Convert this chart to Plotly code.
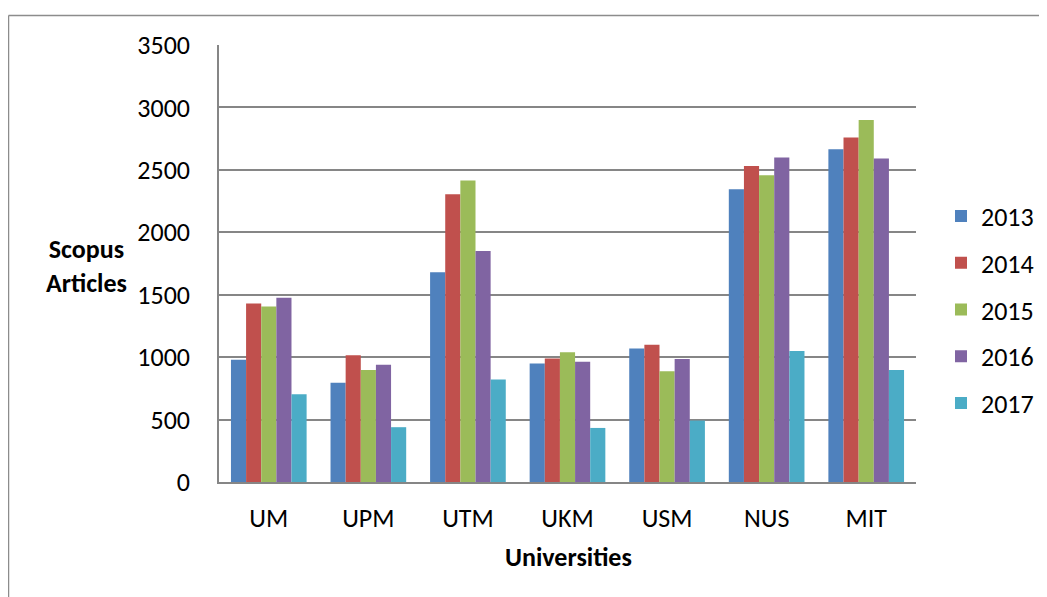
import plotly.graph_objects as go

universities = ["UM", "UPM", "UTM", "UKM", "USM", "NUS", "MIT"]
years = ["2013", "2014", "2015", "2016", "2017"]
v2013 = [980, 795, 1680, 950, 1070, 2345, 2665]
v2014 = [1430, 1015, 2305, 990, 1100, 2530, 2760]
v2015 = [1405, 898, 2415, 1040, 888, 2457, 2900]
v2016 = [1475, 940, 1850, 963, 985, 2598, 2590]
v2017 = [703, 439, 821, 433, 492, 1050, 898]
series = [v2013, v2014, v2015, v2016, v2017]
colors = ["#4F81BD", "#C0504D", "#9BBB59", "#8064A2", "#4BACC6"]

FONT = "Carlito, Lato, sans-serif"
FS = 26

fig = go.Figure()
for yr, vals, col in zip(years, series, colors):
    fig.add_trace(go.Bar(x=universities, y=vals, name=yr, marker_color=col,
                         marker_line_width=0, legendgroup=yr))

OFF = 8  # page body margin
W, H = 1047 - OFF, 597 - OFF
L, T = 219 - OFF, 45 - OFF
PR, PB = 916 - OFF, 482 - OFF
R, B = W - PR, H - PB
pw, ph = PR - L, PB - T


def px(x):
    return (x - OFF - L) / pw


def py(y):
    return (PB - (y - OFF)) / ph


fig.update_layout(
    width=W, height=H,
    margin=dict(l=L, r=R, t=T, b=B, autoexpand=False),
    paper_bgcolor="white", plot_bgcolor="white",
    barmode="group", bargap=0.24, bargroupgap=0,
    font=dict(family=FONT, size=FS, color="black"),
    legend=dict(xref="container", yref="container",
                x=(941 - OFF) / W, xanchor="left",
                y=1 - (310 - OFF) / H, yanchor="middle",
                font=dict(size=FS), tracegroupgap=10, itemwidth=30,
                bgcolor="rgba(0,0,0,0)"),
    xaxis=dict(showgrid=False, showline=True, linecolor="#868686", linewidth=1.5,
               ticks="", ticklabelstandoff=12, tickfont=dict(size=FS)),
    yaxis=dict(range=[0, 3500], dtick=500, showgrid=True, gridcolor="#868686",
               gridwidth=1.5, showline=True, linecolor="#868686", linewidth=1.5,
               ticks="", ticklabelstandoff=22, tickfont=dict(size=FS), zeroline=False),
    showlegend=True,
)

fig.add_annotation(text="<b>Universities</b>", xref="paper", yref="paper",
                   x=px(568), y=py(557), showarrow=False,
                   font=dict(size=FS), xanchor="center", yanchor="middle")
fig.add_annotation(text="<b>Scopus<br>Articles</b>", xref="paper", yref="paper",
                   x=px(86), y=py(266), showarrow=False,
                   font=dict(size=FS), xanchor="center", yanchor="middle", align="center")

# outer chart frame
bx, by = px(8.5), py(15.5)
fig.add_shape(type="line", xref="paper", yref="paper", x0=bx, x1=px(1100),
              y0=by, y1=by, line=dict(color="#8c8c8c", width=1.5))
fig.add_shape(type="line", xref="paper", yref="paper", x0=bx, x1=bx,
              y0=by, y1=py(650), line=dict(color="#8c8c8c", width=1.5))

fig.write_html("out.html")
